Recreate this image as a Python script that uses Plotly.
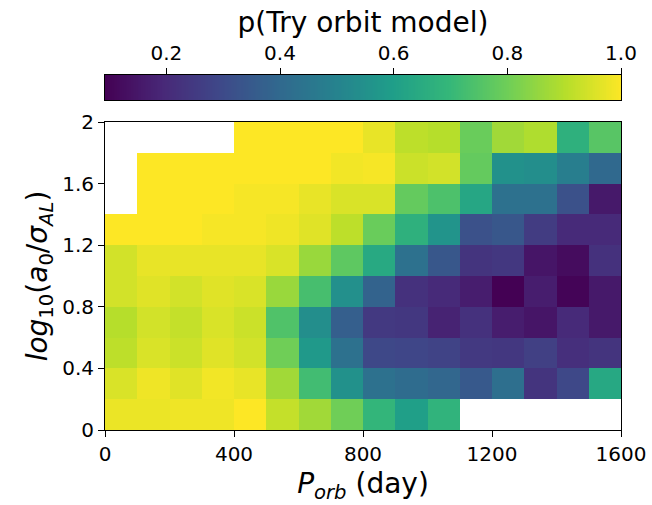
import numpy as np
import plotly.graph_objects as go

nan = np.nan
# bin edges
p_edges = [0, 100, 200, 300, 400, 500, 600, 700, 800, 900, 1000, 1100, 1200, 1300, 1400, 1500, 1600]
a_edges = [0, 0.2, 0.4, 0.6, 0.8, 1.0, 1.2, 1.4, 1.6, 1.8, 2.0]

# p(Try orbit model), rows from bottom (0-0.2) to top (1.8-2.0)
row0 = [0.975, 0.975, 0.98, 0.98, 1.0, 0.92, 0.87, 0.80, 0.69, 0.60, 0.68, nan, nan, nan, nan, nan]
row1 = [0.95, 0.98, 0.96, 0.985, 0.97, 0.87, 0.72, 0.55, 0.43, 0.41, 0.39, 0.345, 0.42, 0.23, 0.29, 0.635]
row2 = [0.91, 0.95, 0.93, 0.96, 0.94, 0.80, 0.58, 0.43, 0.29, 0.285, 0.275, 0.245, 0.24, 0.265, 0.215, 0.23]
row3 = [0.90, 0.94, 0.92, 0.95, 0.93, 0.745, 0.54, 0.365, 0.245, 0.24, 0.18, 0.22, 0.165, 0.145, 0.20, 0.155]
row4 = [0.94, 0.96, 0.94, 0.96, 0.95, 0.86, 0.73, 0.546, 0.38, 0.22, 0.20, 0.165, 0.092, 0.165, 0.10, 0.155]
row5 = [0.94, 0.97, 0.97, 0.97, 0.97, 0.95, 0.86, 0.77, 0.64, 0.43, 0.34, 0.23, 0.24, 0.145, 0.12, 0.22]
row6 = [1.0, 1.0, 1.0, 0.99, 0.99, 0.98, 0.96, 0.91, 0.79, 0.67, 0.56, 0.32, 0.34, 0.255, 0.20, 0.20]
row7 = [nan, 1.0, 1.0, 1.0, 0.99, 0.99, 0.97, 0.95, 0.95, 0.78, 0.74, 0.63, 0.43, 0.43, 0.32, 0.155]
row8 = [nan, 1.0, 1.0, 1.0, 1.0, 1.0, 1.0, 0.985, 0.99, 0.93, 0.94, 0.78, 0.55, 0.54, 0.48, 0.40]
row9 = [nan, nan, nan, nan, 1.0, 1.0, 1.0, 1.0, 0.97, 0.91, 0.90, 0.79, 0.87, 0.89, 0.67, 0.76]

x_ticks = [0, 400, 800, 1200, 1600]
y_ticks = [0, 0.4, 0.8, 1.2, 1.6, 2.0]
y_ticklabels = ["0", "0.4", "0.8", "1.2", "1.6", "2"]
cb_ticks = [0.2, 0.4, 0.6, 0.8, 1.0]
cb_ticklabels = ["0.2", "0.4", "0.6", "0.8", "1.0"]

z = np.array([row0, row1, row2, row3, row4, row5, row6, row7, row8, row9])
zmin = float(np.nanmin(z))
zmax = float(np.nanmax(z))

FONT = "DejaVu Sans"
W, H = 652, 505
ml, mr, mt, mb = 105, 31, 0, 75
ph = H - mt - mb
main_top = (H - mb - 122) / ph
cb_bot = (H - mb - 100) / ph
cb_top = (H - mb - 75) / ph

fig = go.Figure()
fig.add_trace(go.Heatmap(
    x=p_edges, y=a_edges, z=z, colorscale="Viridis", zmin=zmin, zmax=zmax,
    showscale=False, xaxis="x", yaxis="y", hoverongaps=False,
))

# colorbar drawn as a gradient strip on its own axes
cb_vals = np.linspace(zmin, zmax, 301)
fig.add_trace(go.Heatmap(
    x=cb_vals, y=[0, 1], z=[cb_vals[:-1]], colorscale="Viridis", zmin=zmin, zmax=zmax,
    showscale=False, xaxis="x2", yaxis="y2",
))

axis_common = dict(showline=True, linecolor="black", linewidth=1, mirror=True,
                   ticks="outside", ticklen=6, tickwidth=1, tickcolor="black",
                   showgrid=False, zeroline=False, automargin=False,
                   tickfont=dict(family=FONT, size=20, color="black"))

fig.update_layout(
    width=W, height=H, margin=dict(l=ml, r=mr, t=mt, b=mb),
    paper_bgcolor="white", plot_bgcolor="white",
    font=dict(family=FONT, color="black"),
    xaxis=dict(domain=[0, 1], range=[0, 1600], tickvals=x_ticks, anchor="y",
               title=dict(text="<i>P</i><sub><i>orb</i></sub> (day)", font=dict(size=28), standoff=8),
               **axis_common),
    yaxis=dict(domain=[0, main_top], range=[0, 2], tickvals=y_ticks, ticktext=y_ticklabels, anchor="x",
               title=dict(text="<i>log</i><sub>10</sub>(<i>a</i><sub>0</sub>/<i>σ</i><sub><i>AL</i></sub>)",
                          font=dict(size=28), standoff=6),
               **axis_common),
    xaxis2=dict(domain=[0, 1], range=[zmin, zmax], tickvals=cb_ticks, ticktext=cb_ticklabels,
                anchor="y2", side="top",
                title=dict(text="p(Try orbit model)", font=dict(size=28), standoff=0),
                **axis_common),
    yaxis2=dict(domain=[cb_bot, cb_top], range=[0, 1], anchor="x2", showline=True, linecolor="black",
                linewidth=1, mirror=True, showticklabels=False, ticks="", showgrid=False, zeroline=False,
                automargin=False),
)

fig.write_html("out.html")
